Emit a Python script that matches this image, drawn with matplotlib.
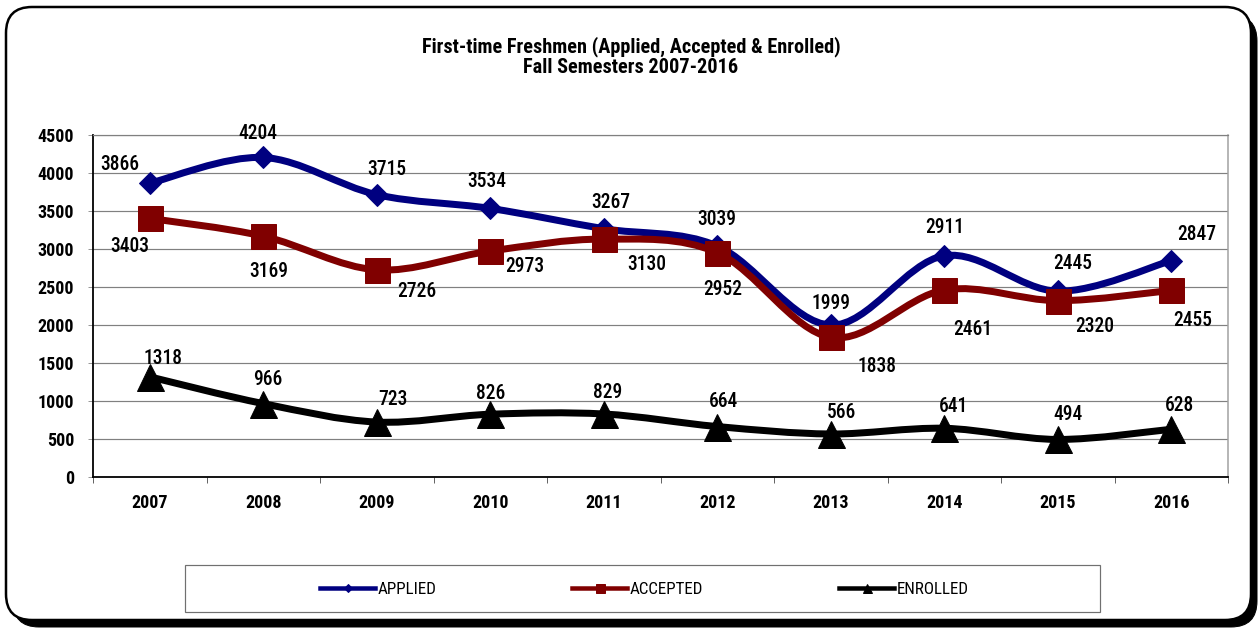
import numpy as np
import matplotlib
matplotlib.use("Agg")
from matplotlib import pyplot as plt
from matplotlib.path import Path
from matplotlib.patches import PathPatch, FancyBboxPatch, Rectangle
from matplotlib.lines import Line2D
from matplotlib.transforms import IdentityTransform

plt.rcParams['font.family'] = ['Roboto Condensed', 'DejaVu Sans']

years = ['2007', '2008', '2009', '2010', '2011', '2012', '2013', '2014', '2015', '2016']
applied = [3866, 4204, 3715, 3534, 3267, 3039, 1999, 2911, 2445, 2847]
accepted = [3403, 3169, 2726, 2973, 3130, 2952, 1838, 2461, 2320, 2455]
enrolled = [1318, 966, 723, 826, 829, 664, 566, 641, 494, 628]

# label offsets in pixels (dx, dy up) - hand placed like the original
applied_off = [(-30, 19), (-5, 24), (10, 25), (-4, 27), (7, 26), (0, 27), (0, 22), (0, 28), (15, 28), (26, 26)]
accepted_off = [(-20, -28), (5, -35), (40, -22), (35, -15), (43, -25), (6, -37), (46, -29), (29, -40), (37, -26), (21, -30)]
enrolled_off = [(13, 18), (5, 24), (16, 23), (0, 21), (4, 21), (6, 25), (11, 21), (9, 22), (10, 25), (8, 24)]

W, H, DPI = 1259, 629, 72
fig = plt.figure(figsize=(W / DPI, H / DPI), dpi=DPI, facecolor='white')

# rounded frame with shadow
shadow = FancyBboxPatch((13, 2), 1244, 612, boxstyle="round,pad=0,rounding_size=26",
                        transform=IdentityTransform(), facecolor='black', edgecolor='black', zorder=-3)
frame = FancyBboxPatch((6, 9), 1245, 613, boxstyle="round,pad=0,rounding_size=26",
                       transform=IdentityTransform(), facecolor='white', edgecolor='black',
                       linewidth=2.5, zorder=-2)
fig.patches.extend([shadow, frame])

ax = fig.add_axes([93 / W, 1 - 477 / H, (1228 - 93) / W, (477 - 135) / H])
x = np.arange(len(years))


def smooth(xs, ys):
    pts = np.column_stack([xs, ys]).astype(float)
    n = len(pts)
    verts = [pts[0]]
    codes = [Path.MOVETO]
    for i in range(n - 1):
        p0 = pts[max(i - 1, 0)]
        p1 = pts[i]
        p2 = pts[i + 1]
        p3 = pts[min(i + 2, n - 1)]
        verts += [p1 + (p2 - p0) / 6, p2 - (p3 - p1) / 6, p2]
        codes += [Path.CURVE4] * 3
    return Path(verts, codes)


series = [
    (applied, '#000080', 'D', 16, applied_off, 'APPLIED'),
    (accepted, '#800000', 's', 25, accepted_off, 'ACCEPTED'),
    (enrolled, '#000000', '^', 27, enrolled_off, 'ENROLLED'),
]

for z, (vals, col, mk, ms, offs, name) in enumerate(series):
    ax.add_patch(PathPatch(smooth(x, vals), facecolor='none', edgecolor=col, lw=7,
                           capstyle='round', joinstyle='round', zorder=3 + z))
    ax.plot(x, vals, linestyle='none', marker=mk, markersize=ms, color=col,
            markeredgecolor=col, zorder=3.5 + z)
    for xi, v, (dx, dy) in zip(x, vals, offs):
        ax.annotate(str(v), (xi, v), xytext=(dx, dy), textcoords='offset points',
                    ha='center', va='center', fontsize=19.5, fontweight='medium',
                    color='black', zorder=10)

ax.set_xlim(-0.5, 9.5)
ax.set_ylim(0, 4500)
ax.set_yticks(np.arange(0, 4501, 500))
ax.set_xticks(x)
ax.set_xticklabels(years)
ax.set_xticks(np.arange(-0.5, 10, 1), minor=True)
ax.tick_params(axis='x', which='major', length=0, pad=17, labelsize=18)
ax.tick_params(axis='x', which='minor', length=6, color='black', direction='out')
ax.tick_params(axis='y', length=5, pad=14, labelsize=18, color='#808080')
for lab in ax.get_xticklabels() + ax.get_yticklabels():
    lab.set_fontweight('bold')
ax.grid(axis='y', color='#808080', linewidth=1.2)
ax.set_axisbelow(True)
ax.spines['left'].set_color('black')
ax.spines['left'].set_linewidth(1.8)
ax.spines['bottom'].set_color('black')
ax.spines['bottom'].set_linewidth(1.8)
ax.spines['right'].set_color('#a0a0a0')
ax.spines['right'].set_linewidth(1.5)
ax.spines['top'].set_color('#808080')
ax.spines['top'].set_linewidth(1.2)

fig.text(631 / W, 1 - 57 / H, 'First-time Freshmen (Applied, Accepted & Enrolled)\nFall Semesters 2007-2016',
         ha='center', va='center', fontsize=20.3, fontweight='bold', linespacing=1.05)

# legend box
fig.patches.append(Rectangle((185, H - 612), 915, 47, transform=IdentityTransform(),
                             facecolor='white', edgecolor='#707070', linewidth=1.2))
handles = [Line2D([], [], color=c, lw=4.5, marker=m, markersize=s, markeredgecolor=c)
           for c, m, s in [('#000080', 'D', 6), ('#800000', 's', 9), ('#000000', '^', 9)]]
fig.legend(handles, ['APPLIED', 'ACCEPTED', 'ENROLLED'], ncol=3, frameon=False,
           loc='center left', bbox_to_anchor=(320 / W, 1 - 589 / H), fontsize=17,
           handlelength=55 / 17, handletextpad=0.15, columnspacing=136 / 17, borderpad=0,
           borderaxespad=0)

fig.savefig('out.png', dpi=DPI, facecolor='white')
